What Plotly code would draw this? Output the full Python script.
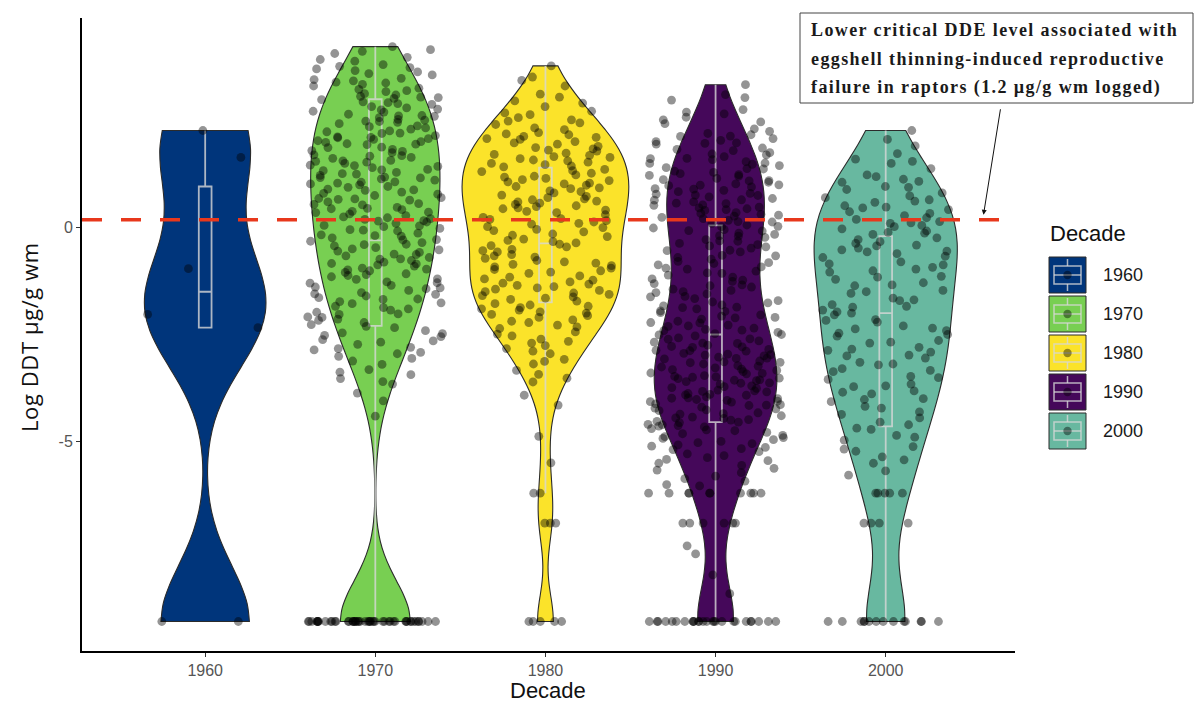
import math
import plotly.graph_objects as go

# ---------------------------------------------------------------- data
DECADES = [1960, 1970, 1980, 1990, 2000]

FLOOR = -9.21   # log of the 0.0001 ug/g reporting floor
ROW_A = -6.21   # log of 0.002 ug/g
ROW_B = -6.91   # log of 0.001 ug/g

THRESHOLD_UG_G = 1.2   # lower critical DDE level (ug/g wm)

ddt_1960 = [2.27, 1.64, -0.96, -2.03, -2.34, FLOOR, FLOOR]

ddt_1970 = [
    4.23, 4.16, 4.07, 3.98, 3.93, 3.81, 4.12, 3.77, 3.89,
    3.71, 3.64, 3.60, 3.49, 3.46, 3.38, 3.35, 3.26, 3.67, 3.57, 3.43, 3.31, 3.74, 3.40,
    3.23, 3.18, 3.10, 3.05, 2.99, 2.92, 2.88, 2.80, 3.20, 3.07, 3.02, 2.94, 2.83, 3.13, 2.90, 2.77, 3.04,
    2.75, 2.70, 2.62, 2.60, 2.53, 2.48, 2.43, 2.36, 2.30, 2.26, 2.72, 2.61, 2.51, 2.46, 2.38, 2.65, 2.57, 2.33, 2.49,
    2.24, 2.20, 2.12, 2.08, 2.01, 1.96, 1.94, 1.87, 1.80, 2.21, 2.15, 2.10, 2.03, 1.99, 1.88, 1.83, 2.11, 1.95, 1.78, 2.06,
    1.75, 1.68, 1.64, 1.57, 1.53, 1.46, 1.43, 1.36, 1.33, 1.26, 1.70, 1.62, 1.55, 1.50, 1.40, 1.35, 1.67, 1.56, 1.45, 1.29,
    1.25, 1.18, 1.14, 1.07, 1.04, 0.96, 0.94, 0.87, 0.80, 0.78, 1.22, 1.16, 1.06, 1.00, 0.90, 0.83, 1.17, 1.02, 0.88, 1.11,
    0.75, 0.67, 0.64, 0.56, 0.53, 0.47, 0.42, 0.36, 0.32, 0.25, 0.70, 0.66, 0.54, 0.45, 0.38, 0.28, 0.68, 0.60, 0.44, 0.35,
    0.23, 0.16, 0.13, 0.05, 0.02, -0.05, -0.08, -0.17, -0.20, 0.19, 0.15, 0.04, -0.06, -0.13, -0.19, 0.10, -0.02, -0.24, 0.21,
    -0.28, -0.32, -0.39, -0.43, -0.50, -0.55, -0.62, -0.66, -0.73, -0.29, -0.40, -0.47, -0.52, -0.63, -0.70, -0.35, -0.58, -0.74,
    -0.77, -0.84, -0.87, -0.95, -1.01, -1.08, -1.12, -1.20, -0.81, -0.90, -0.99, -1.05, -1.10, -1.21, -0.85, -0.97, -1.15,
    -1.27, -1.30, -1.39, -1.43, -1.52, -1.56, -1.64, -1.68, -1.29, -1.41, -1.47, -1.55, -1.60, -1.73, -1.35, -1.67,
    -1.78, -1.84, -1.90, -1.98, -2.03, -2.09, -2.14, -2.22, -1.87, -1.93, -2.02, -2.10, -2.17, -1.76,
    -2.27, -2.34, -2.41, -2.48, -2.55, -2.62, -2.68, -2.31, -2.46, -2.52, -2.65, -2.73,
    -2.80, -2.86, -2.95, -3.01, -3.12, -3.20, -2.92, -3.06, -2.83,
    -3.32, -3.44, -3.53, -3.66, -3.38, -3.60,
    -3.87, -4.05, -4.41,
] + [FLOOR] * 50

ddt_1980 = [
    3.78,
    3.52, 3.31, 3.44,
    3.12, 2.96, 3.05, 2.83, 2.91,
    2.72, 2.64, 2.57, 2.49, 2.41, 2.33, 2.68, 2.52, 2.45, 2.29,
    2.22, 2.17, 2.11, 2.06, 2.01, 1.95, 1.90, 1.84, 1.79, 2.19, 2.08, 1.98, 1.87, 2.13, 1.81,
    1.74, 1.69, 1.64, 1.58, 1.53, 1.47, 1.42, 1.36, 1.31, 1.27, 1.71, 1.61, 1.50, 1.44, 1.33, 1.66, 1.56,
    1.23, 1.18, 1.12, 1.07, 1.02, 0.96, 0.91, 0.86, 0.81, 0.76, 1.20, 1.10, 0.99, 0.93, 0.84, 1.15, 1.04,
    0.73, 0.67, 0.62, 0.57, 0.51, 0.46, 0.41, 0.35, 0.30, 0.70, 0.60, 0.54, 0.44, 0.38, 0.65, 0.49,
    0.24, 0.19, 0.13, 0.08, 0.02, -0.04, -0.10, -0.15, -0.21, 0.21, 0.10, 0.00, -0.07, 0.16, -0.18,
    -0.27, -0.33, -0.39, -0.45, -0.51, -0.57, -0.63, -0.69, -0.30, -0.42, -0.54, -0.66, -0.36, -0.72,
    -0.77, -0.83, -0.89, -0.95, -1.01, -1.07, -1.13, -1.20, -0.80, -0.92, -1.04, -1.16, -0.86, -0.98, -1.23,
    -1.27, -1.32, -1.38, -1.44, -1.50, -1.56, -1.62, -1.68, -1.30, -1.41, -1.53, -1.65, -1.35, -1.47, -1.59, -1.72,
    -1.78, -1.84, -1.90, -1.97, -2.03, -2.10, -2.16, -2.22, -1.81, -1.93, -2.06, -2.19, -1.87, -2.00,
    -2.28, -2.36, -2.44, -2.53, -2.61, -2.70, -2.32, -2.49, -2.66, -2.76,
    -2.83, -2.95, -3.08, -3.19, -2.89, -3.13,
    -3.34, -3.52, -3.61, -3.43,
    -3.92, -4.15,
    -4.88,
    -5.50,
    ROW_A, ROW_A, ROW_B, ROW_B, ROW_B,
] + [FLOOR] * 5

ddt_1990 = [
    3.34,
    3.11, 2.98, 3.04,
    2.76, 2.66, 2.58, 2.47, 2.43, 2.31, 2.70, 2.52,
    2.25, 2.17, 2.13, 2.04, 1.98, 1.95, 1.86, 1.80, 2.20, 2.08, 1.97, 1.83, 2.14, 2.01,
    1.75, 1.70, 1.62, 1.59, 1.51, 1.48, 1.40, 1.37, 1.29, 1.72, 1.61, 1.54, 1.45, 1.32, 1.66, 1.50, 1.38, 1.26,
    1.24, 1.20, 1.12, 1.09, 1.02, 0.98, 0.91, 0.87, 0.80, 0.76, 1.22, 1.15, 1.06, 0.99, 0.90, 0.84, 1.10, 1.00, 0.95, 0.78,
    0.75, 0.68, 0.64, 0.57, 0.53, 0.46, 0.42, 0.35, 0.31, 0.27, 0.72, 0.65, 0.56, 0.48, 0.40, 0.33, 0.60, 0.44, 0.29, 0.52,
    0.24, 0.17, 0.13, 0.06, 0.02, -0.05, -0.08, -0.16, -0.20, 0.21, 0.14, 0.03, -0.07, -0.13, -0.19, 0.10, -0.01, -0.23,
    -0.28, -0.32, -0.40, -0.45, -0.53, -0.57, -0.65, -0.70, -0.31, -0.43, -0.54, -0.66, -0.37, -0.48, -0.74,
    -0.79, -0.84, -0.92, -0.97, -1.06, -1.11, -1.20, -0.82, -0.95, -1.07, -1.23, -0.87, -1.02, -1.16,
    -1.26, -1.34, -1.39, -1.47, -1.52, -1.61, -1.66, -1.74, -1.31, -1.44, -1.55, -1.71, -1.36, -1.50, -1.62,
    -1.76, -1.83, -1.87, -1.95, -1.99, -2.07, -2.11, -2.19, -2.23, -1.81, -1.90, -2.04, -2.14, -1.86, -1.96, -2.10, -2.22,
    -2.28, -2.31, -2.38, -2.41, -2.48, -2.51, -2.58, -2.61, -2.68, -2.71, -2.30, -2.40, -2.50, -2.60, -2.70, -2.35, -2.45,
    -2.53, -2.65, -2.75,
    -2.78, -2.80, -2.87, -2.89, -2.96, -2.98, -3.05, -3.07, -3.14, -3.16, -3.23, -2.79, -2.88, -2.97, -3.06, -3.15, -3.24,
    -2.85, -2.94, -3.03, -3.12, -3.19, -3.00,
    -3.26, -3.32, -3.34, -3.40, -3.42, -3.48, -3.50, -3.56, -3.58, -3.64, -3.66, -3.72, -3.28, -3.37, -3.46, -3.53, -3.60,
    -3.70, -3.31, -3.41, -3.49, -3.57, -3.63, -3.74, -3.52,
    -3.76, -3.82, -3.84, -3.90, -3.92, -3.98, -4.00, -4.06, -4.08, -4.14, -4.16, -4.22, -3.80, -3.88, -3.96, -4.04, -4.12,
    -4.20, -3.83, -3.91, -3.99, -4.07, -4.15, -4.24, -4.02,
    -4.26, -4.33, -4.36, -4.43, -4.46, -4.53, -4.56, -4.63, -4.66, -4.73, -4.28, -4.40, -4.50, -4.60, -4.70, -4.35, -4.45,
    -4.55, -4.64, -4.75, -4.49, -4.61,
    -4.79, -4.86, -4.93, -5.00, -5.05, -5.14, -5.19, -4.82, -4.96, -5.08, -5.24, -4.89, -5.03, -5.17, -4.91, -5.11,
    -5.29, -5.38, -5.45, -5.56, -5.63, -5.73, -5.33, -5.51, -5.67, -5.42,
    -5.81, -5.93, -6.04, -5.87, -6.01,
    -7.44, -7.63, -8.12, -8.56,
] + [ROW_A] * 10 + [ROW_B] * 6 + [FLOOR] * 26

ddt_2000 = [
    2.27,
    2.06, 1.91,
    1.73, 1.60, 1.50, 1.55, 1.38,
    1.23, 1.13, 1.06, 0.96, 0.89, 0.81, 1.19, 0.94, 1.08,
    0.74, 0.65, 0.59, 0.48, 0.42, 0.33, 0.28, 0.70, 0.51, 0.37, 0.62, 0.46,
    0.23, 0.14, 0.10, 0.02, -0.03, -0.11, -0.16, -0.24, 0.19, 0.05, -0.08, -0.13, 0.11,
    -0.28, -0.37, -0.43, -0.52, -0.57, -0.67, -0.70, -0.33, -0.48, -0.61, -0.41, -0.55,
    -0.80, -0.87, -0.97, -1.04, -1.14, -1.21, -0.85, -1.01, -1.16, -0.93,
    -1.29, -1.36, -1.47, -1.54, -1.65, -1.71, -1.34, -1.50, -1.69,
    -1.80, -1.86, -1.97, -2.04, -2.15, -2.21, -1.84, -2.00, -2.17, -1.93,
    -2.30, -2.37, -2.47, -2.54, -2.64, -2.70, -2.35, -2.50, -2.68, -2.41,
    -2.80, -2.87, -2.98, -3.05, -3.15, -3.21, -2.84, -3.00, -3.19, -2.91,
    -3.30, -3.37, -3.48, -3.55, -3.66, -3.72, -3.34, -3.51, -3.70,
    -3.82, -3.89, -4.00, -4.07, -4.18, -3.85, -4.02, -4.22,
    -4.31, -4.45, -4.55, -4.69, -4.37, -4.61, -4.72,
    -4.86, -4.97, -5.12, -5.23, -4.90, -5.18,
    -5.36, -5.51, -5.69, -5.43, -5.79,
] + [ROW_A] * 5 + [ROW_B] * 4 + [FLOOR] * 14

SERIES = [ddt_1960, ddt_1970, ddt_1980, ddt_1990, ddt_2000]

# boxplot summaries per decade
BOX_UPPER = [2.27, 4.23, 3.78, 3.34, 2.27]
BOX_Q3 = [0.96, 3.00, 1.40, 0.05, -0.20]
BOX_MEDIAN = [-1.50, -0.30, -0.37, -2.50, -2.00]
BOX_Q1 = [-2.34, -2.30, -1.75, -4.55, -4.65]
BOX_LOWER = [-2.34, FLOOR, ROW_A, FLOOR, FLOOR]

# ---------------------------------------------------------------- styling
FILLS = ["#00357b", "#78cf52", "#fbe32a", "#45085a", "#68b8a0"]
VIOLIN_WIDTH = [7.1, 7.6, 9.8, 7.2, 8.4]       # years
BANDWIDTH = [1.3, 0.95, 0.65, 0.85, 1.0]
OUTLINE = "#2b2b2b"
BOX_LINE = "rgba(215,215,215,0.8)"
POINT_COLOR = "rgba(0,0,0,0.42)"
THRESHOLD_COLOR = "#e8381c"

W, H = 1194, 707
PANEL_L, PANEL_R, PANEL_T, PANEL_B = 82, 1015, 18, 651
X_RANGE = [1952.76, 2007.6]
Y_RANGE = [-9.9, 4.9]


def px_x(p):
    return (p - PANEL_L) / (PANEL_R - PANEL_L)


def px_y(p):
    return (PANEL_B - p) / (PANEL_B - PANEL_T)


fig = go.Figure()

# violins
for dec, vals, fill, wdt, bw in zip(DECADES, SERIES, FILLS, VIOLIN_WIDTH, BANDWIDTH):
    fig.add_trace(go.Violin(
        x0=dec, y=vals, orientation="v", name=str(dec),
        width=wdt, scalemode="width", spanmode="hard", bandwidth=bw,
        points=False, box_visible=False, meanline_visible=False,
        fillcolor=fill, line=dict(color=OUTLINE, width=1.1),
        opacity=1, hoverinfo="skip", showlegend=False,
    ))

# boxplots
for i, dec in enumerate(DECADES):
    fig.add_trace(go.Box(
        x=[dec], q1=[BOX_Q1[i]], median=[BOX_MEDIAN[i]], q3=[BOX_Q3[i]],
        lowerfence=[BOX_LOWER[i]], upperfence=[BOX_UPPER[i]],
        width=0.75, whiskerwidth=0, boxpoints=False,
        line=dict(color=BOX_LINE, width=1.8), fillcolor="rgba(0,0,0,0)",
        hoverinfo="skip", showlegend=False,
    ))

# jittered observations
for dec, vals in zip(DECADES, SERIES):
    fig.add_trace(go.Box(
        x0=dec, y=vals, width=8, boxpoints="all", jitter=1, pointpos=0,
        marker=dict(color=POINT_COLOR, size=8.8, line=dict(width=0)),
        line=dict(color="rgba(0,0,0,0)", width=0), fillcolor="rgba(0,0,0,0)",
        whiskerwidth=0, hoverinfo="skip", showlegend=False,
    ))

threshold_log = math.log(THRESHOLD_UG_G)

shapes = [
    dict(type="line", xref="paper", yref="y", x0=0, x1=1, y0=threshold_log, y1=threshold_log,
         line=dict(color=THRESHOLD_COLOR, width=3.5, dash="20px,19px"), layer="above"),
    # note box
    dict(type="rect", xref="paper", yref="paper", x0=px_x(800), x1=px_x(1193),
         y0=px_y(103), y1=px_y(13), line=dict(color="#444444", width=1),
         fillcolor="white", layer="above"),
]

annotations = []

NOTE_LINES = [
    "Lower critical DDE level associated with",
    "eggshell thinning-induced reproductive",
    "failure in raptors (1.2 \u00b5g/g wm logged)",
]
for k, line in enumerate(NOTE_LINES):
    annotations.append(dict(
        xref="paper", yref="paper", x=px_x(809), y=px_y(30 + 28.5 * k),
        xanchor="left", yanchor="middle", showarrow=False,
        text='<span style="letter-spacing:1.4px">' + line + "</span>",
        font=dict(family="Liberation Serif", size=18, color="#1a1a1a", weight="bold"),
    ))

# arrow from note to the threshold line
annotations.append(dict(
    x=2005.7, y=threshold_log, xref="x", yref="y", text="", showarrow=True,
    ax=18, ay=-112, arrowhead=2, arrowsize=1, arrowwidth=1, arrowcolor="#111111",
    standoff=5,
))

# axis titles
annotations.append(dict(
    xref="paper", yref="paper", x=px_x(548), y=px_y(690), text="Decade",
    showarrow=False, xanchor="center", yanchor="middle",
    font=dict(family="Liberation Sans", size=22, color="#111111"),
))
annotations.append(dict(
    xref="paper", yref="paper", x=px_x(29), y=px_y(337),
    text='<span style="letter-spacing:0.6px">Log DDT \u00b5g/g wm</span>',
    textangle=-90, showarrow=False, xanchor="center", yanchor="middle",
    font=dict(family="Open Sans", size=22, color="#111111"),
))

# legend
annotations.append(dict(
    xref="paper", yref="paper", x=px_x(1048), y=px_y(233), text="Decade",
    showarrow=False, xanchor="left", yanchor="middle",
    font=dict(family="Liberation Sans", size=22, color="#111111"),
))
KEY_L, KEY_R, KEY_TOP0, KEY_STEP, KEY_SIZE = 1049, 1086, 257, 39, 36
for i, dec in enumerate(DECADES):
    top = KEY_TOP0 + KEY_STEP * i
    cx = (KEY_L + KEY_R) / 2
    cy = top + KEY_SIZE / 2
    shapes.append(dict(type="rect", xref="paper", yref="paper",
                       x0=px_x(KEY_L), x1=px_x(KEY_R), y0=px_y(top + KEY_SIZE), y1=px_y(top),
                       fillcolor=FILLS[i], line=dict(color=OUTLINE, width=1)))
    shapes.append(dict(type="rect", xref="paper", yref="paper",
                       x0=px_x(KEY_L + 5), x1=px_x(KEY_R - 5), y0=px_y(cy + 9), y1=px_y(cy - 9),
                       fillcolor="rgba(0,0,0,0)", line=dict(color=BOX_LINE, width=1.5)))
    shapes.append(dict(type="line", xref="paper", yref="paper",
                       x0=px_x(KEY_L + 5), x1=px_x(KEY_R - 5), y0=px_y(cy), y1=px_y(cy),
                       line=dict(color=BOX_LINE, width=1.5)))
    for a, b in ((top + 2, cy - 9), (cy + 9, top + KEY_SIZE - 2)):
        shapes.append(dict(type="line", xref="paper", yref="paper",
                           x0=px_x(cx), x1=px_x(cx), y0=px_y(a), y1=px_y(b),
                           line=dict(color=BOX_LINE, width=1.5)))
    shapes.append(dict(type="circle", xref="paper", yref="paper",
                       x0=px_x(cx - 4.2), x1=px_x(cx + 4.2), y0=px_y(cy + 4.2), y1=px_y(cy - 4.2),
                       fillcolor=POINT_COLOR, line=dict(width=0)))
    annotations.append(dict(
        xref="paper", yref="paper", x=px_x(1101), y=px_y(cy), text=str(dec),
        showarrow=False, xanchor="left", yanchor="middle",
        font=dict(family="Liberation Sans", size=18, color="#1a1a1a"),
    ))

fig.update_layout(
    width=W, height=H,
    margin=dict(l=PANEL_L, r=W - PANEL_R, t=PANEL_T, b=H - PANEL_B),
    paper_bgcolor="white", plot_bgcolor="white",
    violinmode="overlay", boxmode="overlay",
    showlegend=False,
    shapes=shapes, annotations=annotations,
    xaxis=dict(
        range=X_RANGE, tickmode="array", tickvals=DECADES, ticktext=[str(d) for d in DECADES],
        showgrid=False, zeroline=False, showline=True, linecolor="#000000", linewidth=2,
        ticks="outside", ticklen=4, tickcolor="#333333", tickwidth=1,
        tickfont=dict(family="Liberation Sans", size=16, color="#555555"),
    ),
    yaxis=dict(
        range=Y_RANGE, tickmode="array", tickvals=[-5, 0], ticktext=["-5", "0"],
        showgrid=False, zeroline=False, showline=True, linecolor="#000000", linewidth=2,
        ticks="outside", ticklen=4, tickcolor="#333333", tickwidth=1,
        tickfont=dict(family="Liberation Sans", size=16, color="#555555"),
    ),
)

fig.write_html("out.html")
